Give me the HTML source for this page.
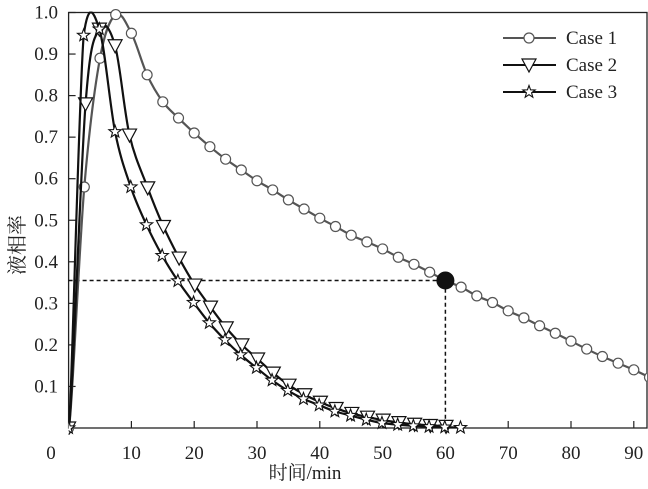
<!DOCTYPE html>
<html><head><meta charset="utf-8">
<style>
body{margin:0;background:#fff;}
svg{display:block;font-family:"Liberation Serif","Noto Serif CJK SC",serif;}
</style></head>
<body>
<svg id="chart" width="648" height="489" viewBox="0 0 648 489"></svg>
<script>
const xTicks=[0,10,20,30,40,50,60,70,80,90];
const yTicks=[0.1,0.2,0.3,0.4,0.5,0.6,0.7,0.8,0.9,1.0];
const case1X=[0,2.5,5,7.5,10,12.5,15,17.5,20,22.5,25,27.5,30,32.5,35,37.5,40,42.5,45,47.5,50,52.5,55,57.5,60,62.5,65,67.5,70,72.5,75,77.5,80,82.5,85,87.5,90,92.5];
const case1Y=[0,0.58,0.89,0.995,0.95,0.85,0.785,0.746,0.71,0.677,0.647,0.621,0.595,0.573,0.549,0.527,0.505,0.485,0.464,0.448,0.431,0.411,0.394,0.375,0.355,0.339,0.318,0.302,0.282,0.265,0.246,0.228,0.209,0.19,0.172,0.156,0.14,0.122];
const case2X=[0,2.7,4.9,7.4,9.7,12.6,15.1,17.6,20.1,22.6,25.1,27.6,30.1,32.6,35.1,37.6,40.1,42.6,45.1,47.6,50.1,52.6,55.1,57.6,60.1];
const case2Y=[0,0.78,0.96,0.92,0.705,0.578,0.485,0.409,0.344,0.291,0.241,0.2,0.166,0.132,0.103,0.08,0.062,0.047,0.035,0.026,0.019,0.013,0.009,0.006,0.004];
const case3X=[0,2.4,4.9,7.4,9.9,12.4,14.9,17.4,19.9,22.4,24.9,27.4,29.9,32.4,34.9,37.4,39.9,42.4,44.9,47.4,49.9,52.4,54.9,57.4,59.9,62.4];
const case3Y=[0,0.945,0.96,0.713,0.58,0.489,0.415,0.354,0.302,0.253,0.212,0.176,0.145,0.115,0.09,0.07,0.055,0.04,0.03,0.02,0.012,0.008,0.005,0.003,0.002,0.001];
const markX=60, markY=0.355;

const NS="http://www.w3.org/2000/svg";
const svg=document.getElementById('chart');
const L=68.6,R=647,T=12.5,B=428;
const sx=v=>L+v*6.28;
const sy=v=>B-v*415.5;
function mk(tag,attrs,parent){const e=document.createElementNS(NS,tag);for(const k in attrs)e.setAttribute(k,attrs[k]);(parent||svg).appendChild(e);return e;}

const defs=mk('defs',{});
const cp=mk('clipPath',{id:'clip'},defs);
mk('rect',{x:L,y:T-7,width:R-L,height:B-T+14},cp);
const cp2=mk('clipPath',{id:'clipline'},defs);
mk('rect',{x:L,y:T-1,width:R-L,height:B-T+14},cp2);

const box=mk('rect',{x:L,y:T,width:R-L,height:B-T,fill:'none',stroke:'#222','stroke-width':1.3});



xTicks.forEach(v=>{
  if(v>0){const t=mk('line',{x1:sx(v),x2:sx(v),y1:B,y2:B-7,stroke:'#222','stroke-width':1.2});
  
  }
  const lx=v===0?51:sx(v);
  const tx=mk('text',{x:lx,y:459,'font-size':19,'text-anchor':'middle',fill:'#222'});
  tx.textContent=v;
  
  
});
yTicks.forEach(v=>{
  const t=mk('line',{x1:L,x2:L+7,y1:sy(v),y2:sy(v),stroke:'#222','stroke-width':1.2});
  
  
  const tx=mk('text',{x:58,y:sy(v)+6,'font-size':19,'text-anchor':'end',fill:'#222'});
  tx.textContent=v.toFixed(1);
  
  
});
const xt=mk('text',{x:305,y:479,'font-size':19,'text-anchor':'middle',fill:'#222'});
xt.textContent='时间/min';


const yt=mk('text',{x:0,y:0,'font-size':20,'text-anchor':'middle',fill:'#222',transform:'translate(24,245) rotate(-90)'});
yt.textContent='液相率';



const g1=mk('path',{d:`M${L} ${sy(markY)} H${sx(markX)} V${B}`,fill:'none',stroke:'#111','stroke-width':1.5,'stroke-dasharray':'4,3'});



function smoothPath(xs,ys){
  const p=xs.map((x,i)=>[sx(x),sy(ys[i])]);
  let d=`M${p[0][0]} ${p[0][1]}`;
  for(let i=0;i<p.length-1;i++){
    const p0=p[Math.max(0,i-1)],p1=p[i],p2=p[i+1],p3=p[Math.min(p.length-1,i+2)];
    let c1y=p1[1]+(p2[1]-p0[1])/6, c2y=p2[1]-(p3[1]-p1[1])/6;
    if(i===0){c1y=p1[1];}
    d+=` C${p1[0]+(p2[0]-p0[0])/6} ${Math.max(T-14,c1y)} ${p2[0]-(p3[0]-p1[0])/6} ${Math.max(T-14,c2y)} ${p2[0]} ${p2[1]}`;
  }
  return d;
}
function marker(type,x,y,g,color){
  let e;
  if(type==='circle') e=mk('circle',{cx:x,cy:y,r:5,fill:'#fff',stroke:color,'stroke-width':1.2},g);
  else if(type==='tri') e=mk('path',{d:`M${x-7} ${y-6} L${x+7} ${y-6} L${x} ${y+7} Z`,fill:'#fff',stroke:color,'stroke-width':1.2},g);
  else {
    let d='';for(let k=0;k<10;k++){const a=-Math.PI/2+k*Math.PI/5;const r=k%2?2.7:6.5;d+=(k?'L':'M')+(x+r*Math.cos(a)).toFixed(2)+' '+(y+r*Math.sin(a)).toFixed(2);}
    e=mk('path',{d:d+'Z',fill:'#fff',stroke:color,'stroke-width':1.1},g);
  }
  
  
}
function series(xs,ys,type,color,w,name){
  const g=mk('g',{'clip-path':'url(#clip)'});
  
  
  const ln=mk('path',{d:smoothPath(xs,ys),fill:'none',stroke:color,'stroke-width':w,'clip-path':'url(#clipline)'},g);
  
  
  xs.forEach((x,i)=>marker(type,sx(x),sy(ys[i]),g,color));
}
series(case1X,case1Y,'circle','#555',2.2,'case-1-series');
series(case2X,case2Y,'tri','#111',2.2,'case-2-series');
series(case3X,case3Y,'star','#111',2.2,'case-3-series');

const dot=mk('circle',{cx:sx(markX),cy:sy(markY),r:9,fill:'#111'});



const legend=mk('g',{});


[['Case 1','circle','#555'],['Case 2','tri','#111'],['Case 3','star','#111']].forEach((c,i)=>{
  const y=38+i*27;
  const g=mk('g',{},legend);
  
  
  mk('line',{x1:503,x2:556,y1:y,y2:y,stroke:c[2],'stroke-width':2},g);
  marker(c[1],529,y,g,c[2]);
  const t=mk('text',{x:566,y:y+6,'font-size':19,fill:'#222'},g);
  t.textContent=c[0];
});
</script>
</body></html>
